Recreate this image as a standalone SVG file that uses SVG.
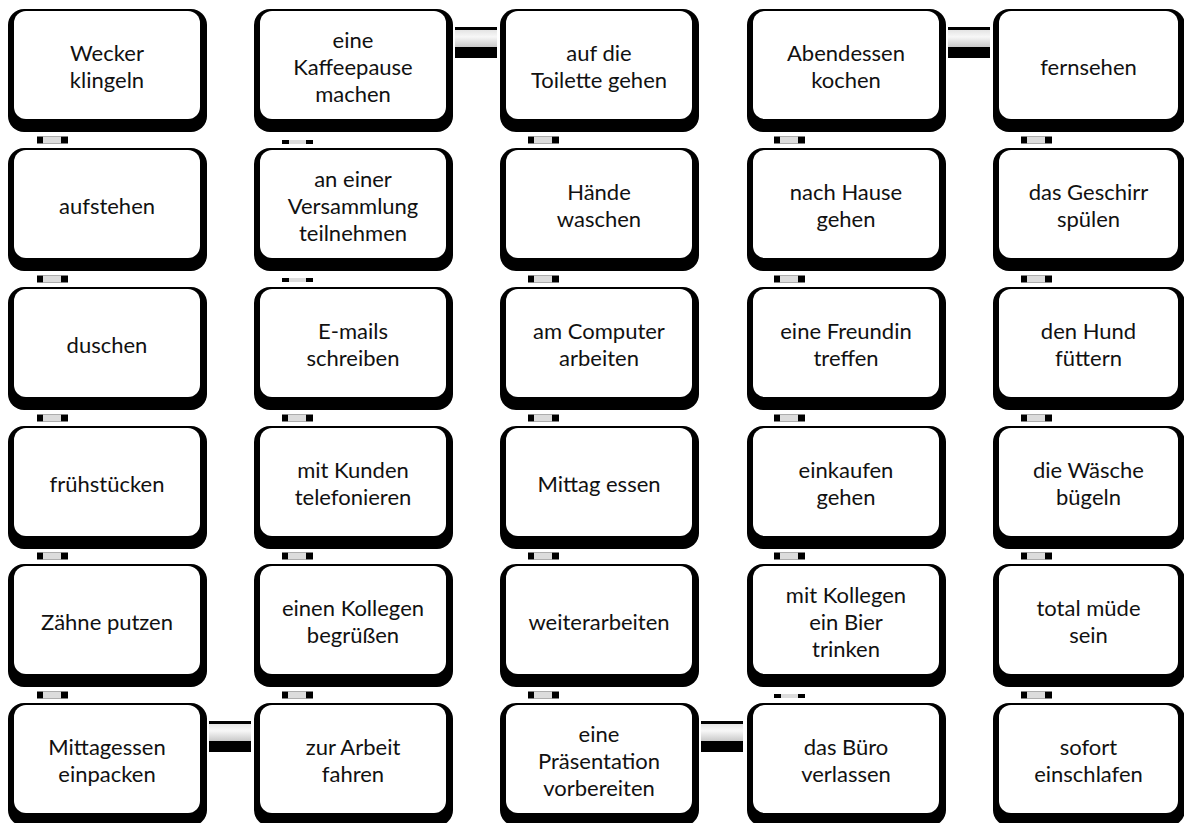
<svg xmlns="http://www.w3.org/2000/svg" width="1184" height="823" viewBox="0 0 1184 823">
<style>
.sh{fill:#000}
.bg{fill:#fff}
.t{font-family:"Lato","Open Sans","Liberation Sans",sans-serif;font-size:22px;fill:#111;text-anchor:middle}
</style>
<defs>
<linearGradient id="hg" x1="0" y1="0" x2="0" y2="1">
<stop offset="0" stop-color="#e4e4e4"/>
<stop offset="0.4" stop-color="#f7f7f7"/>
<stop offset="1" stop-color="#c9c9c9"/>
</linearGradient>
<g id="vc"><rect width="31" height="7" fill="#000"/><rect x="6" width="18" height="7" fill="#dcdcdc"/></g>
<g id="vct"><rect width="31" height="4" fill="#000"/><rect x="7" width="17" height="4" fill="#dcdcdc"/></g>
<g id="hc"><rect width="42" height="31" fill="#000"/><rect y="3" width="42" height="17" fill="url(#hg)"/></g>
<g id="box"><rect class="sh" width="199" height="123" rx="16"/><rect class="bg" x="6" y="2" width="186" height="108" rx="12"/></g>
<g id="box5"><rect class="sh" width="192" height="123" rx="16"/><rect class="bg" x="6" y="2" width="179" height="108" rx="12"/></g>
</defs>
<rect width="1184" height="823" fill="#fff"/>

<g id="connectors">
<use href="#hc" x="455" y="27"/>
<use href="#hc" x="948" y="27"/>
<use href="#hc" x="209" y="721"/>
<use href="#hc" x="701" y="721"/>
<!-- col1 -->
<use href="#vc" x="37" y="136.5"/><use href="#vc" x="37" y="275.5"/><use href="#vc" x="37" y="414.5"/><use href="#vc" x="37" y="552.5"/><use href="#vc" x="37" y="691.5"/>
<!-- col2 -->
<use href="#vct" x="282" y="140"/><use href="#vct" x="282" y="278"/><use href="#vc" x="282" y="414.5"/><use href="#vc" x="282" y="552.5"/><use href="#vc" x="282" y="691.5"/>
<!-- col3 -->
<use href="#vc" x="528" y="136.5"/><use href="#vc" x="528" y="275.5"/><use href="#vc" x="528" y="414.5"/><use href="#vc" x="528" y="552.5"/><use href="#vc" x="528" y="691.5"/>
<!-- col4 -->
<use href="#vc" x="774" y="136.5"/><use href="#vc" x="774" y="275.5"/><use href="#vc" x="774" y="414.5"/><use href="#vc" x="774" y="552.5"/><use href="#vct" x="774" y="694"/>
<!-- col5 -->
<use href="#vc" x="1021" y="136.5"/><use href="#vc" x="1021" y="275.5"/><use href="#vc" x="1021" y="414.5"/><use href="#vc" x="1021" y="552.5"/><use href="#vc" x="1021" y="691.5"/>
</g>

<!-- Row 1 -->
<g id="n-wecker" transform="translate(8,9)"><use href="#box"/><text class="t" x="99" y="52">Wecker</text><text class="t" x="99" y="79">klingeln</text></g>
<g id="n-kaffeepause" transform="translate(254,9)"><use href="#box"/><text class="t" x="99" y="38.5">eine</text><text class="t" x="99" y="65.5">Kaffeepause</text><text class="t" x="99" y="92.5">machen</text></g>
<g id="n-toilette" transform="translate(500,9)"><use href="#box"/><text class="t" x="99" y="52">auf die</text><text class="t" x="99" y="79">Toilette gehen</text></g>
<g id="n-abendessen" transform="translate(747,9)"><use href="#box"/><text class="t" x="99" y="52">Abendessen</text><text class="t" x="99" y="79">kochen</text></g>
<g id="n-fernsehen" transform="translate(993,9)"><use href="#box5"/><text class="t" x="95.5" y="65.5">fernsehen</text></g>

<!-- Row 2 -->
<g id="n-aufstehen" transform="translate(8,148)"><use href="#box"/><text class="t" x="99" y="65.5">aufstehen</text></g>
<g id="n-versammlung" transform="translate(254,148)"><use href="#box"/><text class="t" x="99" y="38.5">an einer</text><text class="t" x="99" y="65.5">Versammlung</text><text class="t" x="99" y="92.5">teilnehmen</text></g>
<g id="n-haende" transform="translate(500,148)"><use href="#box"/><text class="t" x="99" y="52">Hände</text><text class="t" x="99" y="79">waschen</text></g>
<g id="n-nachhause" transform="translate(747,148)"><use href="#box"/><text class="t" x="99" y="52">nach Hause</text><text class="t" x="99" y="79">gehen</text></g>
<g id="n-geschirr" transform="translate(993,148)"><use href="#box5"/><text class="t" x="95.5" y="52">das Geschirr</text><text class="t" x="95.5" y="79">spülen</text></g>

<!-- Row 3 -->
<g id="n-duschen" transform="translate(8,287)"><use href="#box"/><text class="t" x="99" y="65.5">duschen</text></g>
<g id="n-emails" transform="translate(254,287)"><use href="#box"/><text class="t" x="99" y="52">E-mails</text><text class="t" x="99" y="79">schreiben</text></g>
<g id="n-computer" transform="translate(500,287)"><use href="#box"/><text class="t" x="99" y="52">am Computer</text><text class="t" x="99" y="79">arbeiten</text></g>
<g id="n-freundin" transform="translate(747,287)"><use href="#box"/><text class="t" x="99" y="52">eine Freundin</text><text class="t" x="99" y="79">treffen</text></g>
<g id="n-hund" transform="translate(993,287)"><use href="#box5"/><text class="t" x="95.5" y="52">den Hund</text><text class="t" x="95.5" y="79">füttern</text></g>

<!-- Row 4 -->
<g id="n-fruehstuecken" transform="translate(8,426)"><use href="#box"/><text class="t" x="99" y="65.5">frühstücken</text></g>
<g id="n-kunden" transform="translate(254,426)"><use href="#box"/><text class="t" x="99" y="52">mit Kunden</text><text class="t" x="99" y="79">telefonieren</text></g>
<g id="n-mittag" transform="translate(500,426)"><use href="#box"/><text class="t" x="99" y="65.5">Mittag essen</text></g>
<g id="n-einkaufen" transform="translate(747,426)"><use href="#box"/><text class="t" x="99" y="52">einkaufen</text><text class="t" x="99" y="79">gehen</text></g>
<g id="n-waesche" transform="translate(993,426)"><use href="#box5"/><text class="t" x="95.5" y="52">die Wäsche</text><text class="t" x="95.5" y="79">bügeln</text></g>

<!-- Row 5 -->
<g id="n-zaehne" transform="translate(8,564)"><use href="#box"/><text class="t" x="99" y="65.5">Zähne putzen</text></g>
<g id="n-kollegen" transform="translate(254,564)"><use href="#box"/><text class="t" x="99" y="52">einen Kollegen</text><text class="t" x="99" y="79">begrüßen</text></g>
<g id="n-weiterarbeiten" transform="translate(500,564)"><use href="#box"/><text class="t" x="99" y="65.5">weiterarbeiten</text></g>
<g id="n-bier" transform="translate(747,564)"><use href="#box"/><text class="t" x="99" y="38.5">mit Kollegen</text><text class="t" x="99" y="65.5">ein Bier</text><text class="t" x="99" y="92.5">trinken</text></g>
<g id="n-muede" transform="translate(993,564)"><use href="#box5"/><text class="t" x="95.5" y="52">total müde</text><text class="t" x="95.5" y="79">sein</text></g>

<!-- Row 6 -->
<g id="n-mittagessen" transform="translate(8,703)"><use href="#box"/><text class="t" x="99" y="52">Mittagessen</text><text class="t" x="99" y="79">einpacken</text></g>
<g id="n-arbeit" transform="translate(254,703)"><use href="#box"/><text class="t" x="99" y="52">zur Arbeit</text><text class="t" x="99" y="79">fahren</text></g>
<g id="n-praesentation" transform="translate(500,703)"><use href="#box"/><text class="t" x="99" y="38.5">eine</text><text class="t" x="99" y="65.5">Präsentation</text><text class="t" x="99" y="92.5">vorbereiten</text></g>
<g id="n-buero" transform="translate(747,703)"><use href="#box"/><text class="t" x="99" y="52">das Büro</text><text class="t" x="99" y="79">verlassen</text></g>
<g id="n-einschlafen" transform="translate(993,703)"><use href="#box5"/><text class="t" x="95.5" y="52">sofort</text><text class="t" x="95.5" y="79">einschlafen</text></g>
</svg>
